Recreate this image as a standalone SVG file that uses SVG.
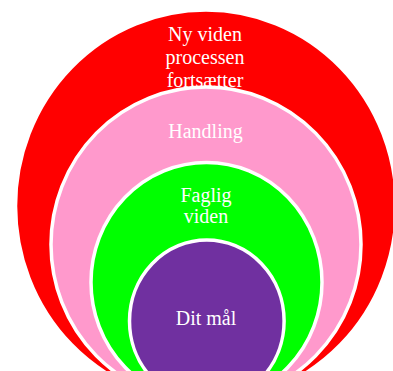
<svg xmlns="http://www.w3.org/2000/svg" width="393" height="371" viewBox="0 0 393 371">
<style>
.ring{stroke:#fff;stroke-width:3.5}
.lbl{font-family:"Liberation Serif","Times New Roman",serif;font-size:20px;fill:#fff;text-anchor:middle}
</style>
<rect width="393" height="371" fill="#fff"/>
<g id="node-ny-viden">
<ellipse class="ring" cx="206" cy="206" rx="190.5" ry="196" fill="#ff0000"/>
<text class="lbl" x="205" y="41">Ny viden</text>
<text class="lbl" x="205" y="63.5">processen</text>
<text class="lbl" x="205" y="86.5">fortsætter</text>
</g>
<g id="node-handling">
<ellipse class="ring" cx="206" cy="244.5" rx="155" ry="157.5" fill="#ff99cc"/>
<text class="lbl" x="205.5" y="137.5">Handling</text>
</g>
<g id="node-faglig-viden">
<ellipse class="ring" cx="206.5" cy="282.3" rx="115.5" ry="119.8" fill="#00ff00"/>
<text class="lbl" x="206" y="201.5">Faglig</text>
<text class="lbl" x="206" y="222.5">viden</text>
</g>
<g id="node-dit-maal">
<ellipse class="ring" cx="206.8" cy="321" rx="77.3" ry="81" fill="#7030a0"/>
<text class="lbl" x="206" y="324.5">Dit mål</text>
</g>
<g id="connectors"></g>
</svg>
